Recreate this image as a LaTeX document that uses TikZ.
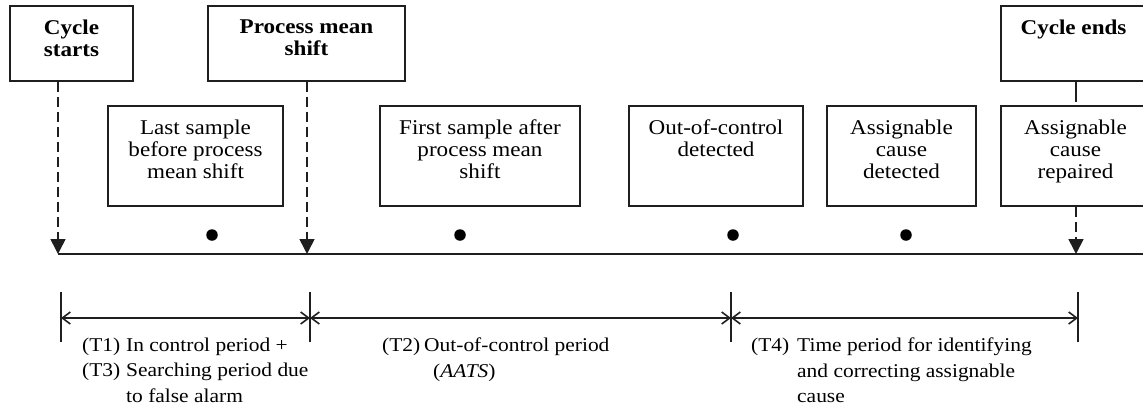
\documentclass[tikz,border=0pt]{standalone}
\usepackage{fontspec}
\setmainfont{Liberation Serif}[FakeStretch=1.1]
\usetikzlibrary{arrows.meta}

\tikzset{
  ln/.style={line width=1.6pt, draw=black!88},
  evbox/.style={ln, rectangle, inner sep=0pt, minimum height=#1},
  evbox/.default=75pt,
  toptext/.style={anchor=north, align=center, inner sep=0pt,
    font=\fontsize{21}{22}\selectfont\bfseries},
  boxtext/.style={anchor=north, align=center, inner sep=0pt,
    font=\fontsize{21}{22}\selectfont},
  dimtext/.style={anchor=north west, align=left, inner sep=0pt,
    font=\fontsize{19.5}{25.5}\selectfont},
  eventarrow/.style={ln, dash pattern=on 10pt off 5pt,
    -{Triangle[length=15pt,width=15pt]}},
  dot/.style={circle, fill=black, inner sep=0pt, minimum size=11.5pt},
  dimline/.style={ln, {Straight Barb[length=8pt,width=12pt]}-{Straight Barb[length=8pt,width=12pt]}},
  tickmark/.style={ln},
}

\begin{document}
\begin{tikzpicture}[x=1pt, y=-1pt]
\useasboundingbox (0,0) rectangle (1143,410);
\clip (0,0) rectangle (1143,410);

% top event boxes
\node[evbox, minimum width=123pt] (cs)  at (71.5,43.5)  {};
\node[evbox, minimum width=197pt] (pms) at (306.5,43.5) {};
\node[evbox, minimum width=149pt] (ce)  at (1075.5,43.5) {};
\node[toptext] (cs-t)  at ([yshift=-14.7pt]cs.north)  {Cycle\\starts};
\node[toptext] (pms-t) at ([yshift=-14.7pt]pms.north) {Process mean\\shift};
\node[toptext] (ce-t)  at ([xshift=-2pt,yshift=-14.7pt]ce.north) {Cycle ends};

% sample / detection boxes
\node[evbox=100pt, minimum width=175pt] (b1) at (195.5,156) {};
\node[evbox=100pt, minimum width=200pt] (b2) at (480,156)   {};
\node[evbox=100pt, minimum width=174pt] (b3) at (716,156)   {};
\node[evbox=100pt, minimum width=149pt] (b4) at (901.5,156) {};
\node[evbox=100pt, minimum width=149pt] (b5) at (1075.5,156) {};
\node[boxtext] (b1-t) at ([yshift=-14.7pt]b1.north) {Last sample\\before process\\mean shift};
\node[boxtext] (b2-t) at ([yshift=-14.7pt]b2.north) {First sample after\\process mean\\shift};
\node[boxtext] (b3-t) at ([yshift=-14.7pt]b3.north) {Out-of-control\\detected};
\node[boxtext] (b4-t) at ([yshift=-14.7pt]b4.north) {Assignable\\cause\\detected};
\node[boxtext] (b5-t) at ([yshift=-14.7pt]b5.north) {Assignable\\cause\\repaired};

% time axis
\coordinate (t0) at (58,254);
\coordinate (t1) at (307,254);
\coordinate (t2) at (1076,254);
\coordinate (tR) at (1160,254);
\draw[ln] (t0) -- (tR);

% event arrows onto the axis
\draw[eventarrow] (cs.south -| t0) -- (t0);
\draw[eventarrow] (pms.south -| t1) -- (t1);
\draw[ln, dash pattern=on 20pt off 3pt] (ce.south -| t2) -- (b5.north -| t2);
\draw[eventarrow] (b5.south -| t2) -- (t2);

% sampling points
\node[dot] (d1) at (212,235) {};
\node[dot] (d2) at (460,235) {};
\node[dot] (d3) at (733,235) {};
\node[dot] (d4) at (906,235) {};

% period dimensions
\coordinate (m0) at (61,318);
\coordinate (m1) at (310,318);
\coordinate (m2) at (731,318);
\coordinate (m3) at (1078,318);
\foreach \m in {m0,m1,m2,m3}
  \draw[tickmark] ([yshift=26pt]\m) -- ([yshift=-24pt]\m);
\draw[dimline] (m0) -- (m1);
\draw[dimline] (m1) -- (m2);
\draw[dimline] (m2) -- (m3);

% period labels
\node[dimtext] (p1) at (82,337.7)
  {\makebox[44pt][l]{(T1)}In control period +\\
   \makebox[44pt][l]{(T3)}Searching period due\\
   \hspace*{44pt}to false alarm};
\node[dimtext] (p2) at (382,337.7)
  {\makebox[42pt][l]{(T2)}Out-of-control period\\
   \hspace*{51pt}(\textit{AATS})};
\node[dimtext] (p3) at (751,337.7)
  {\makebox[46pt][l]{(T4)}Time period for identifying\\
   \hspace*{46pt}and correcting assignable\\
   \hspace*{46pt}cause};
\end{tikzpicture}
\end{document}
